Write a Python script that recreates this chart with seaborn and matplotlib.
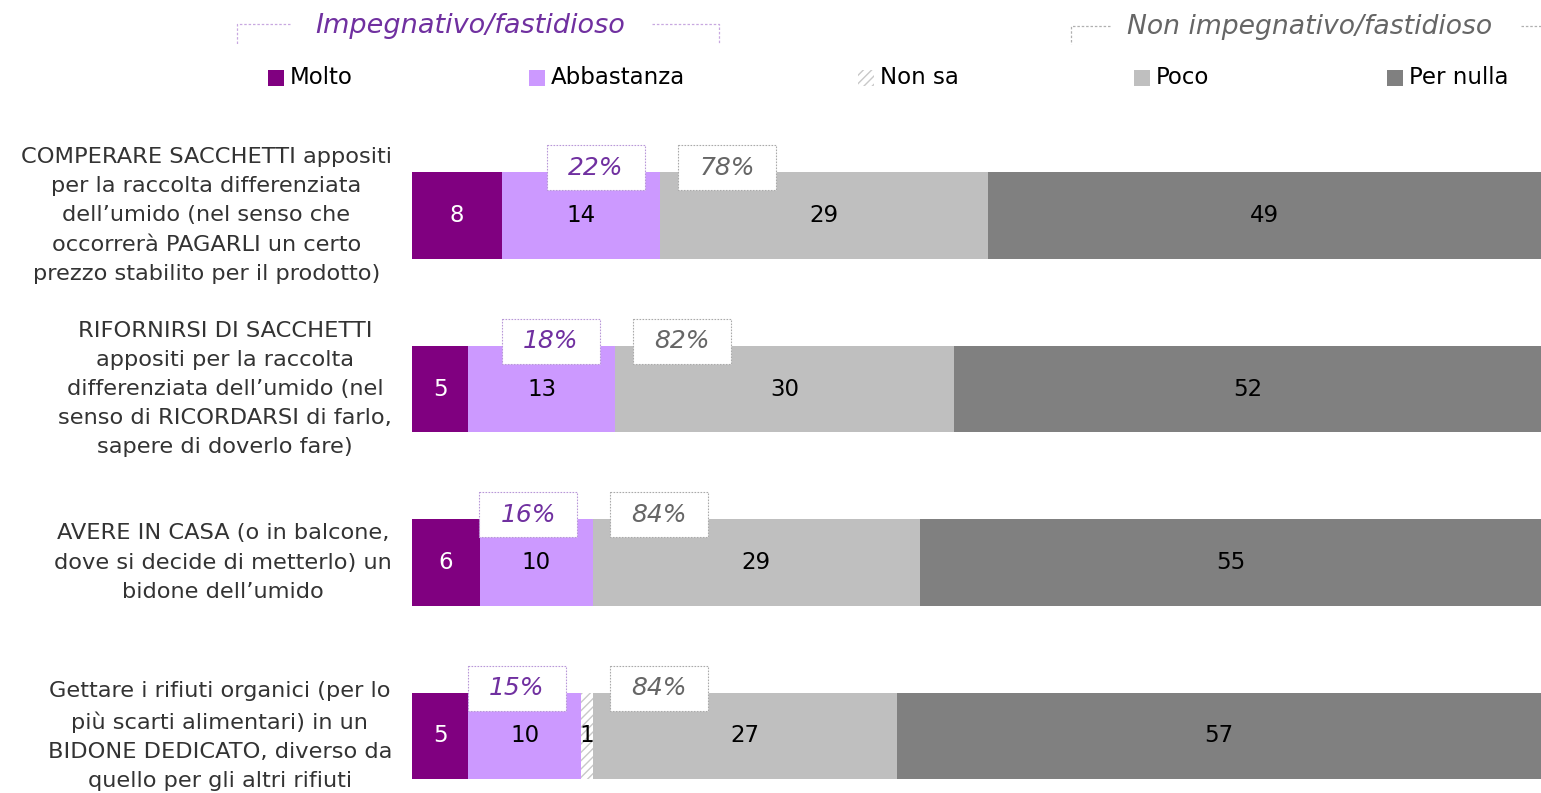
import matplotlib
matplotlib.use("Agg")
import matplotlib.pyplot as plt
from matplotlib.patches import Rectangle
from matplotlib.lines import Line2D
import numpy as np
import pandas as pd
import seaborn as sns

# data
items = [
    "COMPERARE SACCHETTI appositi\nper la raccolta differenziata\ndell\u2019umido (nel senso che\noccorrer\u00e0 PAGARLI un certo\nprezzo stabilito per il prodotto)",
    "RIFORNIRSI DI SACCHETTI\nappositi per la raccolta\ndifferenziata dell\u2019umido (nel\nsenso di RICORDARSI di farlo,\nsapere di doverlo fare)",
    "AVERE IN CASA (o in balcone,\ndove si decide di metterlo) un\nbidone dell\u2019umido",
    "Gettare i rifiuti organici (per lo\npi\u00f9 scarti alimentari) in un\nBIDONE DEDICATO, diverso da\nquello per gli altri rifiuti",
]
molto = [8, 5, 6, 5]
abbastanza = [14, 13, 10, 10]
non_sa = [0, 0, 0, 1]
poco = [29, 30, 29, 27]
per_nulla = [49, 52, 55, 57]
tot_impegnativo = ["22%", "18%", "16%", "15%"]
tot_non_impegnativo = ["78%", "82%", "84%", "84%"]

series = ["Molto", "Abbastanza", "Non sa", "Poco", "Per nulla"]
colors = {"Molto": "#800080", "Abbastanza": "#CC99FF", "Non sa": "#FFFFFF",
          "Poco": "#BFBFBF", "Per nulla": "#808080"}
PURPLE = "#7030A0"
GREY_TXT = "#666666"

df = pd.DataFrame({"item": items, "Molto": molto, "Abbastanza": abbastanza,
                   "Non sa": non_sa, "Poco": poco, "Per nulla": per_nulla})
cum = df[series].cumsum(axis=1)

W, H = 1541, 793
sns.set_style("white")
plt.rcParams["font.family"] = ["DejaVu Sans"]
fig = plt.figure(figsize=(W / 100, H / 100), dpi=100)
ax = fig.add_axes([412 / W, 0, 1 - 412 / W, 1 - 128.75 / H])

# stacked bars: draw cumulative totals from the longest down
for s in reversed(series):
    kw = dict(linewidth=0)
    if s == "Non sa":
        kw.update(hatch="////", edgecolor="#C8C8C8")
    sns.barplot(x=cum[s], y=df["item"], orient="h", color=colors[s],
                width=0.5, saturation=1, ax=ax, **kw)

ax.set_xlim(0, 100)
ax.set_ylim((H - 215.5) / 173.5, -0.5)
ax.set_xlabel("")
ax.set_ylabel("")
ax.set_xticks([])
sns.despine(ax=ax, left=True, bottom=True)
ax.tick_params(axis="y", length=0, pad=14.4)
for lab in ax.get_yticklabels():
    lab.set_multialignment("center")
    lab.set_verticalalignment("center")
    lab.set_fontsize(16.2)
    lab.set_color("#333333")
    lab.set_linespacing(1.57)

# value labels inside the segments
for i in range(len(items)):
    left = 0
    for s in series:
        v = df.loc[i, s]
        if v > 0:
            ax.text(left + v / 2, i, str(v), ha="center", va="center",
                    fontsize=16.5, color="white" if s == "Molto" else "black")
        left += v

# total boxes
bw, bh = 8.7, 45 / 173.5
for i in range(len(items)):
    imp_end = cum.loc[i, "Abbastanza"]
    non_start = cum.loc[i, "Non sa"]
    for cx, txt, col, ec in [(imp_end - 5.7, tot_impegnativo[i], PURPLE, "#B898D8"),
                             (non_start + 5.9, tot_non_impegnativo[i], GREY_TXT, "#AAAAAA")]:
        cy = i - 0.276
        ax.add_patch(Rectangle((cx - bw / 2, cy - bh / 2), bw, bh, facecolor="white",
                               edgecolor=ec, linewidth=0.8, linestyle=(0, (1.5, 1.2)),
                               zorder=5))
        ax.text(cx, cy, txt, ha="center", va="center", fontsize=18,
                style="italic", color=col, zorder=6)


def px(x, y):
    return x / W, 1 - y / H


# group headers with bracket lines
fig.text(*px(470, 26), "Impegnativo/fastidioso", ha="center", va="center",
         fontsize=19.5, style="italic", color=PURPLE)
fig.text(*px(1310, 27), "Non impegnativo/fastidioso", ha="center", va="center",
         fontsize=19.2, style="italic", color="#666666")
for pts, col in [([(290, 24), (237, 24), (237, 44)], "#C8A8E0"),
                 ([(652, 24), (719, 24), (719, 44)], "#C8A8E0"),
                 ([(1110, 26), (1071, 26), (1071, 44)], "#B0B0B0"),
                 ([(1521, 26), (1541, 26)], "#B0B0B0")]:
    xs, ys = zip(*[px(a, b) for a, b in pts])
    fig.add_artist(Line2D(xs, ys, color=col, linewidth=0.9,
                          linestyle=(0, (2, 1.5)), transform=fig.transFigure))

# legend
leg_x = [268, 529, 858, 1134, 1387]
for x0, s in zip(leg_x, series):
    kw = dict(facecolor=colors[s], linewidth=0)
    if s == "Non sa":
        kw.update(hatch="////", edgecolor="#C8C8C8")
    fig.add_artist(Rectangle(px(x0, 86), 16 / W, 16 / H,
                             transform=fig.transFigure, **kw))
    fig.text(*px(x0 + 22, 78), s, ha="left", va="center", fontsize=16.5,
             color="black")

fig.savefig("out.png", dpi=100)
